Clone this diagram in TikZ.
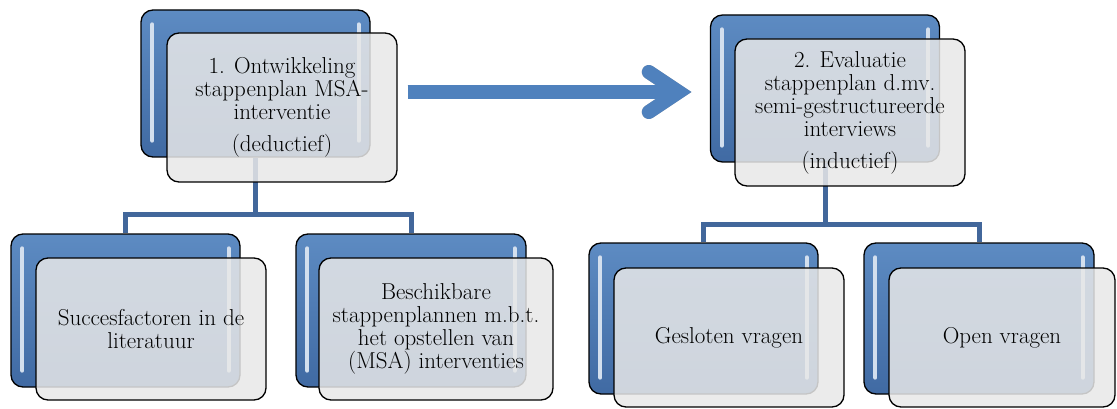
\documentclass[tikz,border=0pt]{standalone}
\definecolor{boxblue}{RGB}{79,129,189}
\definecolor{boxbluedark}{RGB}{64,106,163}
\definecolor{linkblue}{RGB}{66,103,155}
\definecolor{panegray}{RGB}{232,232,232}
\definecolor{shadowgray}{RGB}{165,165,165}
\tikzset{
 backbox/.style={draw=black,line width=1.3pt,rounded corners=12pt,
   top color=boxblue!92!white,bottom color=boxbluedark,
   minimum width=229pt,inner sep=0pt},
 frontbox/.style={draw=black,line width=1.3pt,rounded corners=12pt,
   fill=panegray,fill opacity=0.85,text opacity=1,minimum width=230pt,
   inner sep=0pt,align=center,font=\fontsize{23}{23}\selectfont},
 gloss/.style={line width=4pt,line cap=round,draw=boxblue!25!white},
 link/.style={line width=5pt,draw=linkblue},
 flow/.style={line width=14pt},
}
\begin{document}
\begin{tikzpicture}[x=1pt,y=-1pt]
 \useasboundingbox (0,0) rectangle (1117,409);
 % back boxes
 \node[backbox,minimum height=147pt] (devback) at (255.5,83.5) {};
 \node[backbox,minimum height=153pt] (litback) at (125.5,310.5) {};
 \node[backbox,minimum height=153pt,minimum width=230pt] (planback) at (411,310.5) {};
 \node[backbox,minimum height=147pt] (evalback) at (825,88.5) {};
 \node[backbox,minimum height=151pt] (closedback) at (703.5,318.5) {};
 \node[backbox,minimum height=151pt,minimum width=230pt] (openback) at (979,318.5) {};
 \foreach \b in {devback,litback,planback,evalback,closedback,openback} {
   \draw[gloss] ([shift={(12,15)}]\b.north west) -- ([shift={(12,-17)}]\b.south west);
   \draw[gloss] ([shift={(-12,15)}]\b.north east) -- ([shift={(-12,-17)}]\b.south east);
 }
 % connectors
 \draw[link] (devback.south) -- ++(0,57) coordinate (devfork);
 \draw[link] (litback.north) |- (devfork) -| (planback.north);
 \draw[link] (evalback.south) -- ++(0,62) coordinate (evalfork);
 \draw[link] (closedback.north) |- (evalfork) -| (openback.north);
 % front boxes
 \node[frontbox,minimum height=149pt] (devbox) at (282,107.5)
   {1. Ontwikkeling\\stappenplan MSA-\\interventie\\[9pt](deductief)};
 \node[frontbox,minimum height=142pt] (litbox) at (151,329)
   {Succesfactoren in de\\literatuur};
 \node[frontbox,minimum height=142pt,minimum width=234pt] (planbox) at (436,329)
   {Beschikbare\\stappenplannen m.b.t.\\het opstellen van\\(MSA) interventies};
 \node[frontbox,minimum height=147pt] (evalbox) at (850,112.5)
   {2. Evaluatie\\stappenplan d.mv.\\semi-gestructureerde\\interviews\\[9pt](inductief)};
 \node[frontbox,minimum height=139pt] (closedbox) at (729,337.5)
   {Gesloten vragen};
 \node[frontbox,minimum height=139pt,minimum width=226pt] (openbox) at (1002,337.5)
   {Open vragen};
 % arrow between the phases
 \coordinate (flowtail) at ([shift={(10,-15.5)}]devbox.east);
 \coordinate (flowtip) at ([shift={(-31,3.5)}]evalback.west);
 \begin{scope}[shift={(2,3)}]
  \draw[flow,draw=shadowgray] (flowtail) -- ([xshift=-5]flowtip);
  \draw[flow,draw=shadowgray,line cap=round] ([shift={(-30,-20)}]flowtip) -- (flowtip) -- ([shift={(-30,20)}]flowtip);
 \end{scope}
 \draw[flow,draw=boxblue] (flowtail) -- ([xshift=-5]flowtip);
 \draw[flow,draw=boxblue,line cap=round] ([shift={(-30,-20)}]flowtip) -- (flowtip) -- ([shift={(-30,20)}]flowtip);
\end{tikzpicture}
\end{document}
